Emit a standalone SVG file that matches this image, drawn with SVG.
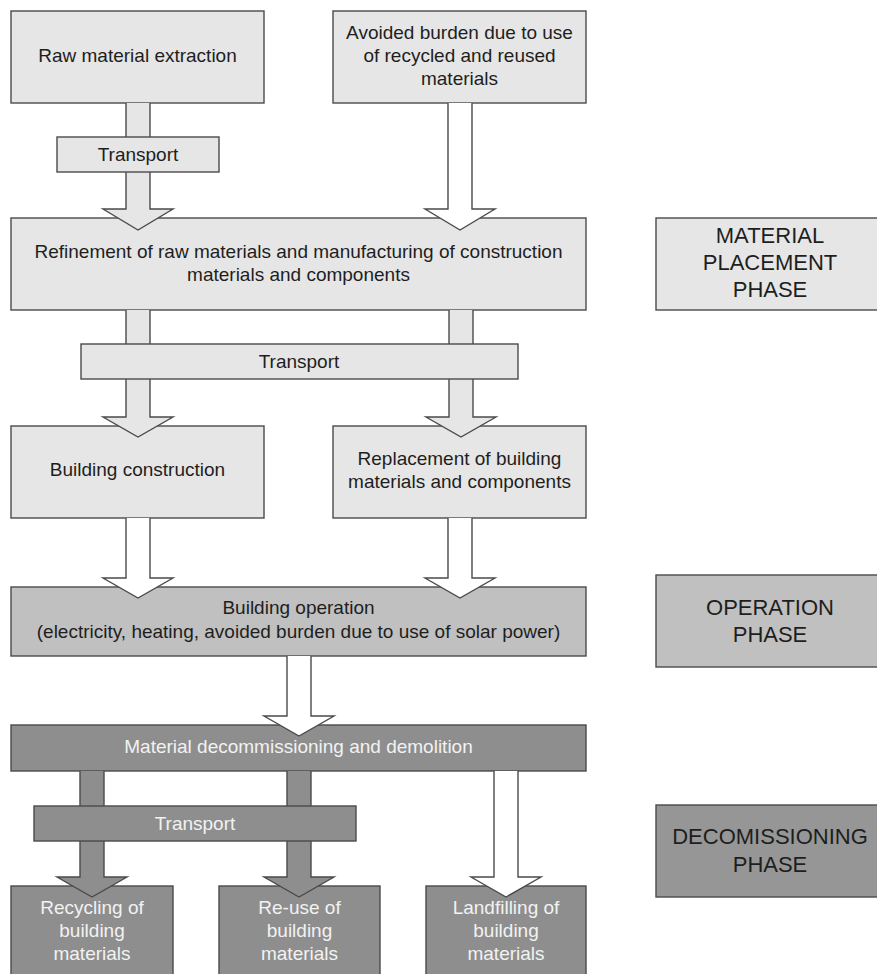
<svg xmlns="http://www.w3.org/2000/svg" width="877" height="974" viewBox="0 0 877 974">
<style>
  .box{stroke:#4a4a4a;stroke-width:1.4}
  .light{fill:#e6e6e6}
  .mid{fill:#c0c0c0}
  .dark{fill:#8e8e8e}
  .darkp{fill:#969696}
  .t{font-family:"Liberation Sans",Arial,sans-serif;font-size:19px;fill:#1e1e1e;text-anchor:middle}
  .tw{fill:#f2f2f2}
  .p{font-family:"Liberation Sans",Arial,sans-serif;font-size:22px;fill:#1e1e1e;text-anchor:middle}
  .arr{stroke:#4a4a4a;stroke-width:1.4;stroke-linejoin:miter}
  .aw{fill:#ffffff}
  .ag{fill:#e6e6e6}
  .ad{fill:#8e8e8e}
</style>
<rect width="877" height="974" fill="#ffffff"/>

<g id="raw"><rect class="box light" x="11" y="11" width="253" height="92"/><text class="t" x="137.5" y="62">Raw material extraction</text></g>
<g id="avoided"><rect class="box light" x="333" y="11" width="253" height="92"/><text class="t" x="459.5" y="39">Avoided burden due to use</text><text class="t" x="459.5" y="62">of recycled and reused</text><text class="t" x="459.5" y="85">materials</text></g>
<g id="refinement"><rect class="box light" x="11" y="218" width="575" height="92"/><text class="t" x="298.5" y="258">Refinement of raw materials and manufacturing of construction</text><text class="t" x="298.5" y="281">materials and components</text></g>
<g id="construction"><rect class="box light" x="11" y="426" width="253" height="92"/><text class="t" x="137.5" y="476">Building construction</text></g>
<g id="replacement"><rect class="box light" x="333" y="426" width="253" height="92"/><text class="t" x="459.5" y="465">Replacement of building</text><text class="t" x="459.5" y="488">materials and components</text></g>
<g id="operation"><rect class="box mid" x="11" y="587" width="575" height="69"/><text class="t" x="298.5" y="614">Building operation</text><text class="t" x="298.5" y="638">(electricity, heating, avoided burden due to use of solar power)</text></g>
<g id="decommissioning"><rect class="box dark" x="11" y="725" width="575" height="46"/><text class="t tw" x="298.5" y="753">Material decommissioning and demolition</text></g>
<g id="recycling"><rect class="box dark" x="11" y="886" width="162" height="100"/><text class="t tw" x="92" y="914">Recycling of</text><text class="t tw" x="92" y="937">building</text><text class="t tw" x="92" y="960">materials</text></g>
<g id="reuse"><rect class="box dark" x="219" y="886" width="161" height="100"/><text class="t tw" x="299.5" y="914">Re-use of</text><text class="t tw" x="299.5" y="937">building</text><text class="t tw" x="299.5" y="960">materials</text></g>
<g id="landfill"><rect class="box dark" x="426" y="886" width="160" height="100"/><text class="t tw" x="506" y="914">Landfilling of</text><text class="t tw" x="506" y="937">building</text><text class="t tw" x="506" y="960">materials</text></g>

<g id="phase-material"><rect class="box light" x="656" y="218" width="240" height="92"/><text class="p" x="770" y="243">MATERIAL</text><text class="p" x="770" y="270">PLACEMENT</text><text class="p" x="770" y="297">PHASE</text></g>
<g id="phase-operation"><rect class="box mid" x="656" y="575" width="240" height="92"/><text class="p" x="770" y="615">OPERATION</text><text class="p" x="770" y="642">PHASE</text></g>
<g id="phase-decom"><rect class="box darkp" x="656" y="805" width="240" height="92"/><text class="p tw" x="770" y="844">DECOMISSIONING</text><text class="p tw" x="770" y="872">PHASE</text></g>

<g id="connectors">
  <path class="arr ag" d="M126,103 V209 H103 L138,230 L173,209 H150 V103"/>
  <path class="arr aw" d="M448,103 V209 H425 L460,230 L495,209 H472 V103"/>
  <path class="arr ag" d="M126,310 V417 H103 L138,437 L173,417 H150 V310"/>
  <path class="arr ag" d="M449,310 V417 H426 L461,437 L496,417 H473 V310"/>
  <path class="arr aw" d="M126,518 V578 H103 L138,598 L173,578 H150 V518"/>
  <path class="arr aw" d="M448,518 V578 H425 L460,598 L495,578 H472 V518"/>
  <path class="arr aw" d="M287,656 V716 H264 L299,736 L334,716 H311 V656"/>
  <path class="arr ad" d="M80,771 V877 H57 L92,897 L127,877 H104 V771"/>
  <path class="arr ad" d="M287,771 V877 H264 L299,897 L334,877 H311 V771"/>
  <path class="arr aw" d="M494,771 V877 H471 L506,897 L541,877 H518 V771"/>
</g>

<g id="transport1"><rect class="box light" x="57" y="137" width="162" height="35"/><text class="t" x="138" y="161">Transport</text></g>
<g id="transport2"><rect class="box light" x="81" y="344" width="437" height="35"/><text class="t" x="299" y="368">Transport</text></g>
<g id="transport3"><rect class="box dark" x="34" y="806" width="322" height="35"/><text class="t tw" x="195" y="830">Transport</text></g>
</svg>
